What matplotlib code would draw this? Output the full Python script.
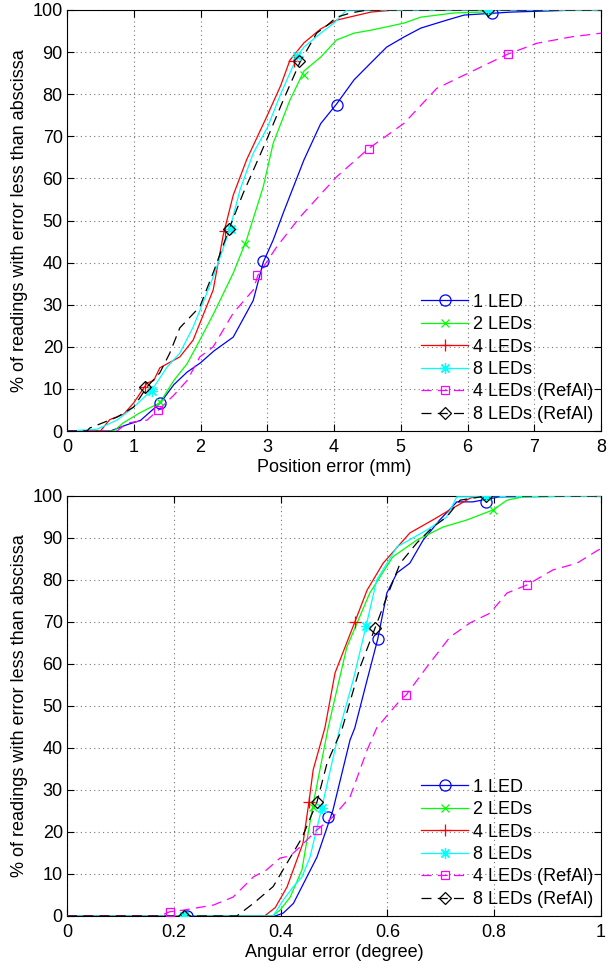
import matplotlib
matplotlib.use("Agg")
import matplotlib.pyplot as plt
from matplotlib.lines import Line2D

plt.rcParams['font.family'] = ['Liberation Sans', 'DejaVu Sans']
plt.rcParams['font.size'] = 13

labels = ["1 LED", "2 LEDs", "4 LEDs", "8 LEDs", "4 LEDs (RefAl)", "8 LEDs (RefAl)"]

# ---------------- Position error (mm) ----------------
pos_1led_x = [0, 0.65, 0.9, 1.1, 1.4, 1.6, 1.8, 2.0, 2.2, 2.49, 2.79, 2.94, 3.09, 3.24, 3.55, 3.8, 4.04, 4.3, 4.55, 4.79, 5.05, 5.3, 5.69, 5.95, 6.35, 6.65, 7.64, 8]
pos_1led_y = [0, 0, 1.5, 2.5, 6.7, 11, 14, 16.2, 19, 22.3, 31, 40.1, 45.4, 51.8, 64.4, 73, 77.7, 83.4, 87.4, 91.2, 93.6, 95.7, 97.6, 98.8, 99.2, 99.5, 100, 100]
pos_2led_x = [0, 0.7, 0.84, 1.09, 1.39, 1.6, 1.8, 1.99, 2.2, 2.49, 2.69, 2.94, 3.09, 3.34, 3.55, 3.8, 4.04, 4.3, 4.55, 4.79, 5.05, 5.3, 5.8, 6.2, 6.35, 8]
pos_2led_y = [0, 0, 1.9, 4.3, 6.7, 12, 16, 21.6, 28, 37.5, 45.4, 58, 68.4, 78.6, 85.5, 88.8, 92.9, 94.5, 95.2, 96, 96.9, 98.3, 99.3, 99.5, 100, 100]
pos_4led_x = [0, 0.5, 0.64, 0.85, 1.0, 1.2, 1.3, 1.39, 1.69, 1.89, 2.19, 2.34, 2.49, 2.69, 2.99, 3.2, 3.34, 3.55, 3.8, 4.04, 4.55, 4.9, 8]
pos_4led_y = [0, 0, 2.7, 4, 6.7, 11.4, 12, 15, 17.6, 21.6, 33.5, 46.5, 56, 64.4, 74.6, 82, 88.1, 92.2, 95.5, 97.6, 99.5, 100, 100]
pos_8led_x = [0, 0.45, 0.75, 1.0, 1.27, 1.5, 1.69, 1.89, 2.0, 2.2, 2.44, 2.59, 2.79, 3.0, 3.2, 3.45, 3.55, 3.8, 4.0, 4.19, 8]
pos_8led_y = [0, 0.4, 2.6, 5.7, 9.7, 15.2, 18.5, 24.7, 29, 37, 48, 57.2, 66, 72, 80, 89, 91.2, 94.5, 96.9, 100, 100]
pos_4ref_x = [0, 0.75, 0.9, 1.2, 1.37, 1.6, 1.8, 1.99, 2.19, 2.49, 2.79, 2.86, 3.14, 3.49, 4.04, 4.52, 5.05, 5.54, 6.05, 6.6, 7.04, 7.55, 8]
pos_4ref_y = [0, 0, 1.9, 2.6, 5, 8.5, 12, 17.6, 20, 28, 33.5, 37, 43.7, 50.8, 60.4, 67.1, 73.1, 81.4, 85.3, 89.5, 92.1, 93.6, 94.5]
pos_8ref_x = [0, 0.3, 0.34, 0.75, 1.0, 1.2, 1.39, 1.54, 1.69, 1.99, 2.2, 2.44, 2.64, 2.99, 3.24, 3.49, 3.74, 3.9, 4.04, 4.25, 4.5, 8]
pos_8ref_y = [0, 0, 0.7, 3.3, 5.7, 10.5, 13.8, 18.5, 24.5, 29.5, 38, 48.5, 56.5, 69.1, 78.6, 87.6, 94.5, 96.4, 98.3, 99.3, 100, 100]

pos_mk_1led_x = [1.4, 2.93, 4.05, 6.37]
pos_mk_1led_y = [6.7, 40.3, 77.5, 99.2]
pos_mk_2led_x = [1.4, 2.67, 3.55]
pos_mk_2led_y = [7, 44.4, 84.5]
pos_mk_4led_x = [1.17, 2.37, 3.4]
pos_mk_4led_y = [10.5, 47.5, 88]
pos_mk_8led_x = [1.27, 2.45, 3.45, 6.3]
pos_mk_8led_y = [9.5, 48, 89, 100]
pos_mk_4ref_x = [1.37, 2.85, 4.53, 6.6]
pos_mk_4ref_y = [5, 37, 67.1, 89.5]
pos_mk_8ref_x = [1.17, 2.42, 3.48, 6.3]
pos_mk_8ref_y = [10.5, 48, 88, 100]

# ---------------- Angular error (degree) ----------------
ang_1led_x = [0, 0.39, 0.405, 0.424, 0.44, 0.468, 0.498, 0.53, 0.539, 0.562, 0.582, 0.599, 0.618, 0.642, 0.667, 0.698, 0.73, 0.76, 0.81, 1.0]
ang_1led_y = [0, 0, 0.7, 3, 7, 14, 25.2, 41.9, 44.8, 56.2, 66, 76.9, 81.7, 84, 89.5, 94.3, 98.6, 98.6, 99.8, 100]
ang_2led_x = [0, 0.385, 0.399, 0.418, 0.44, 0.46, 0.489, 0.502, 0.524, 0.567, 0.61, 0.655, 0.704, 0.749, 0.798, 0.824, 0.854, 1.0]
ang_2led_y = [0, 0, 1.4, 4.5, 11, 26, 44.8, 52, 64, 76.9, 85.5, 89.5, 92.6, 94.3, 96.7, 99, 99.8, 100]
ang_4led_x = [0, 0.37, 0.39, 0.412, 0.442, 0.453, 0.461, 0.483, 0.502, 0.539, 0.562, 0.592, 0.642, 0.685, 0.717, 0.755, 0.77, 1.0]
ang_4led_y = [0, 0, 2, 6.9, 17.4, 27.1, 34.8, 44.8, 57.9, 70, 77.6, 84, 91.2, 94.3, 96.7, 99.5, 100, 100]
ang_8led_x = [0, 0.386, 0.405, 0.424, 0.44, 0.455, 0.477, 0.511, 0.536, 0.56, 0.58, 0.618, 0.674, 0.711, 0.73, 1.0]
ang_8led_y = [0, 0, 3.8, 7, 9.3, 14, 25.7, 44.8, 56.2, 69, 80, 87.9, 91.9, 95, 99.8, 100]
ang_4ref_x = [0, 0.174, 0.192, 0.218, 0.274, 0.311, 0.349, 0.374, 0.399, 0.418, 0.436, 0.468, 0.498, 0.53, 0.562, 0.58, 0.624, 0.635, 0.674, 0.717, 0.755, 0.792, 0.824, 0.861, 0.91, 0.955, 0.993, 1.0]
ang_4ref_y = [0, 0, 1, 1.4, 2.6, 4.5, 9.3, 11, 13.8, 14.3, 16.4, 20.5, 23.6, 28.3, 39.5, 44.8, 51.4, 52.6, 59.3, 66.4, 69.8, 72.1, 76.9, 78.8, 82.4, 84, 87, 87.5]
ang_8ref_x = [0, 0.318, 0.349, 0.386, 0.412, 0.44, 0.468, 0.487, 0.515, 0.549, 0.577, 0.599, 0.624, 0.655, 0.685, 0.711, 0.736, 0.785, 1.0]
ang_8ref_y = [0, 0, 3, 7, 12.6, 18.6, 27.1, 36.4, 44.5, 59.3, 68.6, 76, 84, 88.8, 92.6, 95, 99, 100, 100]

ang_mk_1led_x = [0.224, 0.489, 0.582, 0.785]
ang_mk_1led_y = [0, 23.6, 66, 98.6]
ang_mk_2led_x = [0.22, 0.46, 0.798]
ang_mk_2led_y = [0, 26, 96.7]
ang_mk_4led_x = [0.22, 0.453, 0.539]
ang_mk_4led_y = [0, 27.1, 70]
ang_mk_8led_x = [0.22, 0.477, 0.56, 0.785]
ang_mk_8led_y = [0, 25.7, 69, 100]
ang_mk_4ref_x = [0.192, 0.468, 0.635, 0.861]
ang_mk_4ref_y = [1, 20.5, 52.6, 78.8]
ang_mk_8ref_x = [0.219, 0.468, 0.577, 0.785]
ang_mk_8ref_y = [0, 27.1, 68.6, 100]

pos_xticks = [0, 1, 2, 3, 4, 5, 6, 7, 8]
ang_xticks = [0, 0.2, 0.4, 0.6, 0.8, 1.0]
ang_xticklabels = ["0", "0.2", "0.4", "0.6", "0.8", "1"]
yticks = [0, 10, 20, 30, 40, 50, 60, 70, 80, 90, 100]

colors = ['#0000ff', '#00ff00', '#ff0000', '#00ffff', '#ff00ff', '#000000']
markers = ['o', 'x', '+', (8, 2, 0), 's', 'D']
msizes = [8, 6, 9, 8, 6, 6.5]
dash = (0, (8, 5))
styles = ['-', '-', '-', '-', dash, dash]

fig = plt.figure(figsize=(6.08, 9.64), dpi=100)
ax1 = fig.add_axes([67/608, 1-431/964, 534/608, 421/964])
ax2 = fig.add_axes([67/608, 1-916/964, 534/608, 420/964])

pos_curves = [(pos_1led_x, pos_1led_y), (pos_2led_x, pos_2led_y), (pos_4led_x, pos_4led_y),
              (pos_8led_x, pos_8led_y), (pos_4ref_x, pos_4ref_y), (pos_8ref_x, pos_8ref_y)]
pos_marks = [(pos_mk_1led_x, pos_mk_1led_y), (pos_mk_2led_x, pos_mk_2led_y), (pos_mk_4led_x, pos_mk_4led_y),
             (pos_mk_8led_x, pos_mk_8led_y), (pos_mk_4ref_x, pos_mk_4ref_y), (pos_mk_8ref_x, pos_mk_8ref_y)]
ang_curves = [(ang_1led_x, ang_1led_y), (ang_2led_x, ang_2led_y), (ang_4led_x, ang_4led_y),
              (ang_8led_x, ang_8led_y), (ang_4ref_x, ang_4ref_y), (ang_8ref_x, ang_8ref_y)]
ang_marks = [(ang_mk_1led_x, ang_mk_1led_y), (ang_mk_2led_x, ang_mk_2led_y), (ang_mk_4led_x, ang_mk_4led_y),
             (ang_mk_8led_x, ang_mk_8led_y), (ang_mk_4ref_x, ang_mk_4ref_y), (ang_mk_8ref_x, ang_mk_8ref_y)]


def draw(ax, curves, marks, xlim, xticks, xticklabels, xlabel):
    for (cx, cy), (mx, my), c, m, ms, ls in zip(curves, marks, colors, markers, msizes, styles):
        ax.plot(cx, cy, color=c, lw=0.9, ls=ls, zorder=3)
        ax.plot(mx, my, ls='none', marker=m, ms=ms, mfc='none', mec=c, mew=0.9, zorder=4)
    ax.set_xlim(*xlim)
    ax.set_ylim(0, 100)
    ax.set_xticks(xticks)
    ax.set_xticklabels(xticklabels)
    ax.set_yticks(yticks)
    ax.tick_params(direction='in', top=True, right=True, length=5, width=0.8, labelsize=13)
    ax.tick_params(axis='x', pad=6)
    ax.tick_params(axis='y', pad=3)
    ax.grid(True, color='#777777', ls=(0, (1, 3)), lw=0.8)
    for s in ax.spines.values():
        s.set_linewidth(0.8)
    ax.set_xlabel(xlabel, fontsize=13, labelpad=2)
    ax.set_ylabel('% of readings with error less than abscissa', fontsize=13, labelpad=3)
    handles = [Line2D([], [], color=c, ls=ls, lw=0.9, marker=m, ms=ms, mfc='none', mec=c, mew=0.9)
               for c, m, ms, ls in zip(colors, markers, msizes, styles)]
    ax.legend(handles, labels, loc='lower right', frameon=False, fontsize=13,
              handlelength=2.6, handletextpad=0.25, labelspacing=0.3, borderaxespad=0.25,
              borderpad=0.2)


draw(ax1, pos_curves, pos_marks, (0, 8), pos_xticks, [str(t) for t in pos_xticks], 'Position error (mm)')
draw(ax2, ang_curves, ang_marks, (0, 1), ang_xticks, ang_xticklabels, 'Angular error (degree)')

fig.savefig('out.png', dpi=100)
